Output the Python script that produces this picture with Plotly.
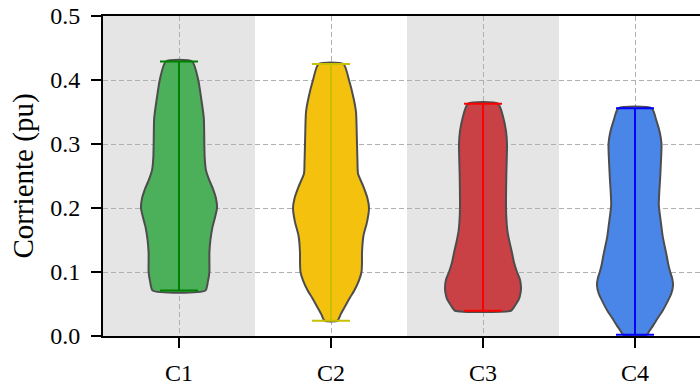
import plotly.graph_objects as go

# ---- data ----
categories = ["C1", "C2", "C3", "C4"]
positions = [1, 2, 3, 4]

# density profiles: current level (pu) and relative density (half width)
c1_y = [0.071, 0.085, 0.10, 0.115, 0.13, 0.15, 0.17, 0.185, 0.20, 0.215, 0.23, 0.245, 0.26, 0.28, 0.30, 0.34, 0.37, 0.40, 0.429]
c1_d = [26, 28.5, 30, 30, 30, 31, 33, 35.5, 37.5, 36.5, 33.5, 29.5, 26.5, 25.3, 25, 24.5, 22, 19, 13]

c2_y = [0.024, 0.035, 0.046, 0.06, 0.071, 0.087, 0.10, 0.115, 0.13, 0.157, 0.178, 0.20, 0.215, 0.233, 0.254, 0.27, 0.30, 0.35, 0.37, 0.40, 0.425]
c2_d = [6.5, 10, 14, 19, 23.3, 28, 30.5, 31, 31, 32.5, 36, 38, 36.5, 32.5, 27, 26.5, 26, 25, 22.8, 18, 12.5]

c3_y = [0.0395, 0.044, 0.05, 0.058, 0.067, 0.076, 0.088, 0.10, 0.115, 0.13, 0.147, 0.163, 0.18, 0.20, 0.25, 0.30, 0.32, 0.34, 0.363]
c3_d = [28, 30.5, 33, 36, 37.5, 38, 37, 34, 31, 29, 26.5, 24.5, 23.5, 23, 23.3, 24, 23, 20.5, 15]

c4_y = [0.002, 0.008, 0.017, 0.027, 0.04, 0.053, 0.066, 0.079, 0.09, 0.10, 0.112, 0.125, 0.155, 0.175, 0.205, 0.251, 0.30, 0.318, 0.337, 0.356]
c4_d = [12, 14.5, 18.5, 22.5, 28, 32.5, 36.5, 38.3, 37.5, 35.5, 33.5, 32, 28, 26.3, 24, 25.5, 26.7, 25, 21.5, 16.7]

profiles_y = [c1_y, c2_y, c3_y, c4_y]
profiles_d = [c1_d, c2_d, c3_d, c4_d]

fill_colors = ["#4CAF5A", "#F4C10F", "#C94045", "#4A86E8"]
line_colors = ["#008000", "#C8C000", "#FF0000", "#0000FF"]
edge_color = "#4d4d4d"

y_ticks = [0.0, 0.1, 0.2, 0.3, 0.4, 0.5]

half_width = 0.25   # max half width of a violin (x units)
cap_half = 0.125

FONT = "Liberation Serif"

fig = go.Figure()

for pos, ys, ds, fc, lc in zip(positions, profiles_y, profiles_d, fill_colors, line_colors):
    m = max(ds)
    w = [half_width * d / m for d in ds]
    xs = [pos + v for v in w] + [pos - v for v in reversed(w)] + [pos + w[0]]
    yy = list(ys) + list(reversed(ys)) + [ys[0]]
    fig.add_trace(go.Scatter(
        x=xs, y=yy, mode="lines", fill="toself", fillcolor=fc,
        line=dict(color=edge_color, width=2, shape="spline", smoothing=0.6),
        hoverinfo="skip", showlegend=False))
    ymin, ymax = ys[0], ys[-1]
    fig.add_trace(go.Scatter(
        x=[pos, pos, None, pos - cap_half, pos + cap_half, None, pos - cap_half, pos + cap_half],
        y=[ymin, ymax, None, ymin, ymin, None, ymax, ymax],
        mode="lines", line=dict(color=lc, width=2),
        hoverinfo="skip", showlegend=False))

# alternating background bands
for pos in [1, 3]:
    fig.add_shape(type="rect", xref="x", yref="paper", x0=pos - 0.5, x1=pos + 0.5,
                  y0=0, y1=1, fillcolor="#E5E5E5", line=dict(width=0), layer="below")

W, H = 700, 386
ml, mt, mb, mr = 103, 16, 41, 0
px_per_unit = 152
xmax = 0.5 + (W - ml - mr) / px_per_unit

fig.update_layout(
    width=W, height=H,
    margin=dict(l=ml, r=mr, t=mt, b=mb),
    plot_bgcolor="white", paper_bgcolor="white",
    font=dict(family=FONT, size=24, color="black"),
    showlegend=False,
)
fig.update_xaxes(
    range=[0.5, xmax], tickvals=positions, ticktext=categories,
    showline=True, linecolor="black", linewidth=1.8, mirror=True,
    ticks="outside", ticklen=10, tickwidth=2, tickcolor="black",
    ticklabelstandoff=4,
    showgrid=True, gridcolor="#B0B0B0", gridwidth=1.2, griddash="5px,3px",
    zeroline=False, tickfont=dict(family=FONT, size=24),
)
fig.update_yaxes(
    range=[0, 0.5], tickvals=y_ticks, tickformat=".1f",
    showline=True, linecolor="black", linewidth=1.8,
    ticks="outside", ticklen=10, tickwidth=2, tickcolor="black",
    ticklabelstandoff=6,
    showgrid=True, gridcolor="#B0B0B0", gridwidth=1.2, griddash="5px,3px",
    zeroline=False, tickfont=dict(family=FONT, size=24),
    title=dict(text="Corriente (pu)", font=dict(family=FONT, size=29), standoff=8),
)

fig.write_html("out.html")
